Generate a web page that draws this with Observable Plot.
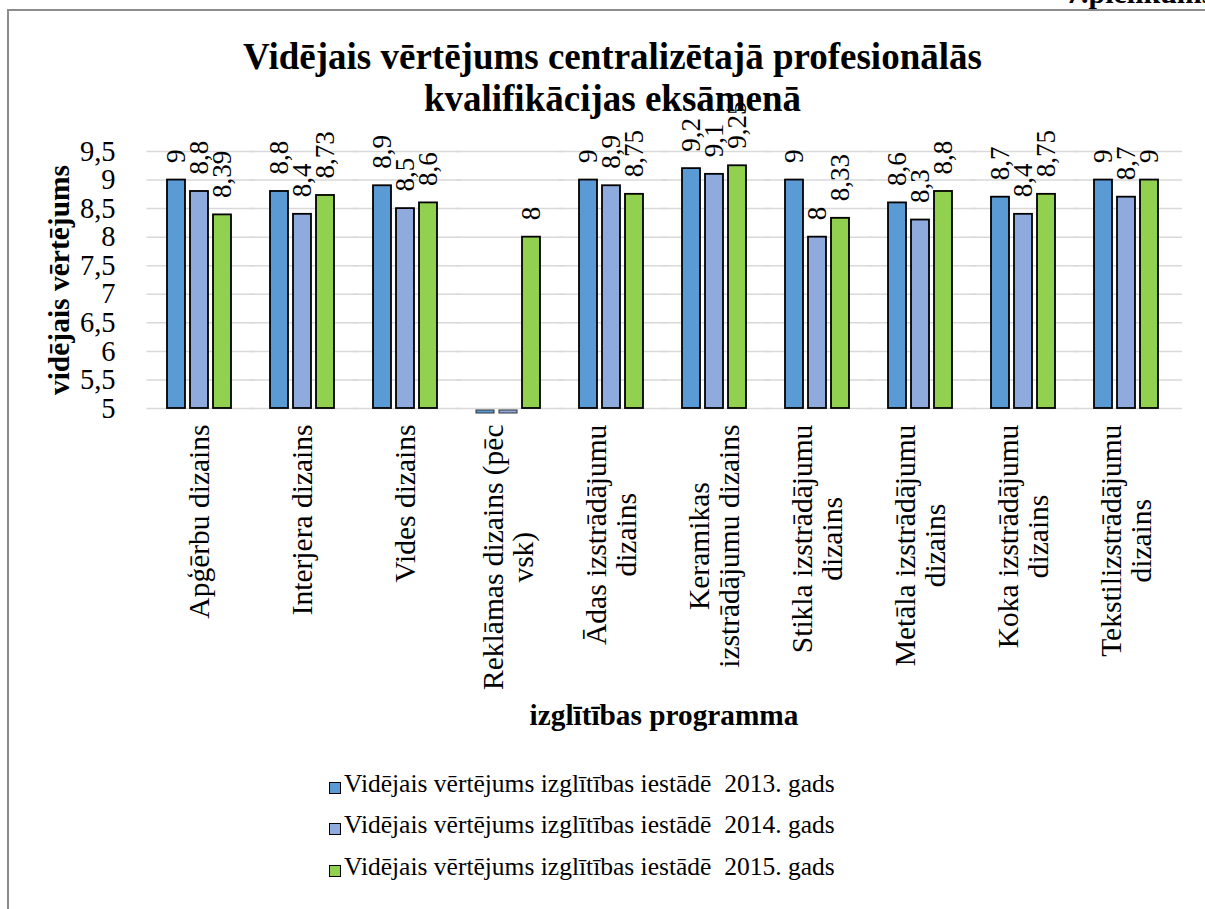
<!DOCTYPE html>
<html>
<head>
<meta charset="utf-8">
<script src="https://cdn.jsdelivr.net/npm/d3@7"></script>
<script src="https://cdn.jsdelivr.net/npm/@observablehq/plot@0.6"></script>
<style>
  html, body { margin: 0; padding: 0; background: #fff; overflow: hidden; }
  #wrap { position: relative; width: 1205px; height: 909px; overflow: hidden;
          font-family: "Liberation Serif", "Times New Roman", serif; color: #000; }
  #bl { position: absolute; left: 7px; top: 10px; width: 2px; height: 899px; background: #8c8c8c; }
  #bt { position: absolute; left: 7px; top: 9px; width: 1198px; height: 2px; background: #8c8c8c; }
  #corner { position: absolute; left: 1066px; top: -24px; font-weight: bold; font-size: 30px; white-space: nowrap; }
  #title { position: absolute; left: 0; width: 1225px; top: 36px; text-align: center;
           font-weight: bold; font-size: 37px; line-height: 42px; }
  #chart { position: absolute; left: 0; top: 0; }
  #chart svg, #chart svg text { font-family: "Liberation Serif", "Times New Roman", serif !important; }
  #ytitle { position: absolute; left: 59px; top: 280px; transform: translate(-50%, -50%) rotate(-90deg);
            font-weight: bold; font-size: 29.5px; line-height: 30px; white-space: nowrap; }
  #xtitle { position: absolute; left: 0; width: 1328px; top: 699px; text-align: center;
            font-weight: bold; font-size: 29.3px; }
  #legend { position: absolute; left: 329px; top: 763px; }
  .lrow { display: flex; align-items: center; height: 41.5px; font-size: 25.5px; white-space: nowrap; }
  .sw { width: 10px; height: 10px; border: 1.5px solid #000; margin-right: 3px; margin-top: 8px; }
</style>
</head>
<body>
<div id="wrap">
  <div id="bl"></div>
  <div id="bt"></div>
  <div id="corner">7.pielikums</div>
  <div id="title">Vidējais vērtējums centralizētajā profesionālās<br>kvalifikācijas eksāmenā</div>
  <div id="chart"></div>
  <div id="ytitle">vidējais vērtējums</div>
  <div id="xtitle">izglītības programma</div>
  <div id="legend"></div>
</div>
<script>
// ---- data ----
const categories = [
  "Apģērbu dizains",
  "Interjera dizains",
  "Vides dizains",
  "Reklāmas dizains (pēc\nvsk)",
  "Ādas izstrādājumu\ndizains",
  "Keramikas\nizstrādājumu dizains",
  "Stikla izstrādājumu\ndizains",
  "Metāla izstrādājumu\ndizains",
  "Koka izstrādājumu\ndizains",
  "Tekstilizstrādājumu\ndizains"
];
const seriesNames = [
  "Vidējais vērtējums izglītības iestādē  2013. gads",
  "Vidējais vērtējums izglītības iestādē  2014. gads",
  "Vidējais vērtējums izglītības iestādē  2015. gads"
];
const values2013 = [9, 8.8, 8.9, 0, 9, 9.2, 9, 8.6, 8.7, 9];
const values2014 = [8.8, 8.4, 8.5, 0, 8.9, 9.1, 8, 8.3, 8.4, 8.7];
const values2015 = [8.39, 8.73, 8.6, 8, 8.75, 9.25, 8.33, 8.8, 8.75, 9];
const yTicks = [5, 5.5, 6, 6.5, 7, 7.5, 8, 8.5, 9, 9.5];
const yAxisMin = 5;
const seriesColors = ["#5B9BD5", "#8FAADC", "#92D050"];

// ---- table ----
const seriesValues = [values2013, values2014, values2015];
const table = [];
categories.forEach((c, i) => {
  seriesValues.forEach((arr, j) => table.push({cat: c, series: seriesNames[j], value: arr[i]}));
});
const fmt = v => String(v).replace(".", ",");

const chart = Plot.plot({
  width: 1205,
  height: 740,
  marginLeft: 145,
  marginRight: 25,
  marginTop: 151,
  marginBottom: 332,
  style: {fontSize: "26px", color: "#000", background: "transparent", overflow: "visible"},
  fx: {domain: categories, paddingInner: 0.36, paddingOuter: 0.18, label: null},
  x: {domain: seriesNames, paddingInner: 0.2, paddingOuter: 0, axis: null},
  y: {domain: [yTicks[0], yTicks[yTicks.length - 1]], clamp: true, label: null},
  color: {domain: seriesNames, range: seriesColors},
  marks: [
    // gridlines drawn in every facet, widened so that they join across the gaps
    Plot.ruleY(yTicks, {stroke: "#d9d9d9", strokeWidth: 1.5, insetLeft: -19.5, insetRight: -23}),
    Plot.axisY(yTicks, {tickSize: 0, tickPadding: 51, tickFormat: fmt, fontSize: 28.5, label: null}),
    Plot.axisFx({anchor: "bottom", tickSize: 0, tickPadding: 16, tickRotate: -90, textAnchor: "end", lineAnchor: "middle",
      lineHeight: 1.02, fontSize: 29.5, label: null}),
    Plot.barY(table.filter(d => d.value >= yAxisMin), {fx: "cat", x: "series", y1: yAxisMin, y2: "value",
      fill: "series", stroke: "#000", strokeWidth: 1.8}),
    // values below the axis minimum: clipped stub just under the baseline
    Plot.barY(table.filter(d => d.value < yAxisMin), {fx: "cat", x: "series", y1: yAxisMin, y2: "value",
      fill: "series", stroke: "#333", strokeWidth: 1, insetTop: 2, insetBottom: -5}),
    Plot.text(table.filter(d => d.value >= yAxisMin), {fx: "cat", x: "series", y: "value", text: d => fmt(d.value),
      rotate: -90, textAnchor: "start", lineAnchor: "middle", dy: -17, fontSize: 27})
  ]
});
document.getElementById("chart").appendChild(chart);

// center the lines of each multi-line category label while keeping the block top-aligned
chart.querySelectorAll('g[aria-label="fx-axis tick label"] text').forEach(t => {
  const L = t.getBBox().width;
  t.setAttribute("text-anchor", "middle");
  t.setAttribute("transform", (t.getAttribute("transform") || "") + ` translate(${-L / 2},0)`);
});

// legend
const legend = document.getElementById("legend");
seriesNames.forEach((s, i) => {
  const row = document.createElement("div");
  row.className = "lrow";
  const sw = document.createElement("span");
  sw.className = "sw";
  sw.style.background = seriesColors[i];
  const tx = document.createElement("span");
  tx.textContent = s;
  tx.style.whiteSpace = "pre";
  row.appendChild(sw);
  row.appendChild(tx);
  legend.appendChild(row);
});
</script>
</body>
</html>
